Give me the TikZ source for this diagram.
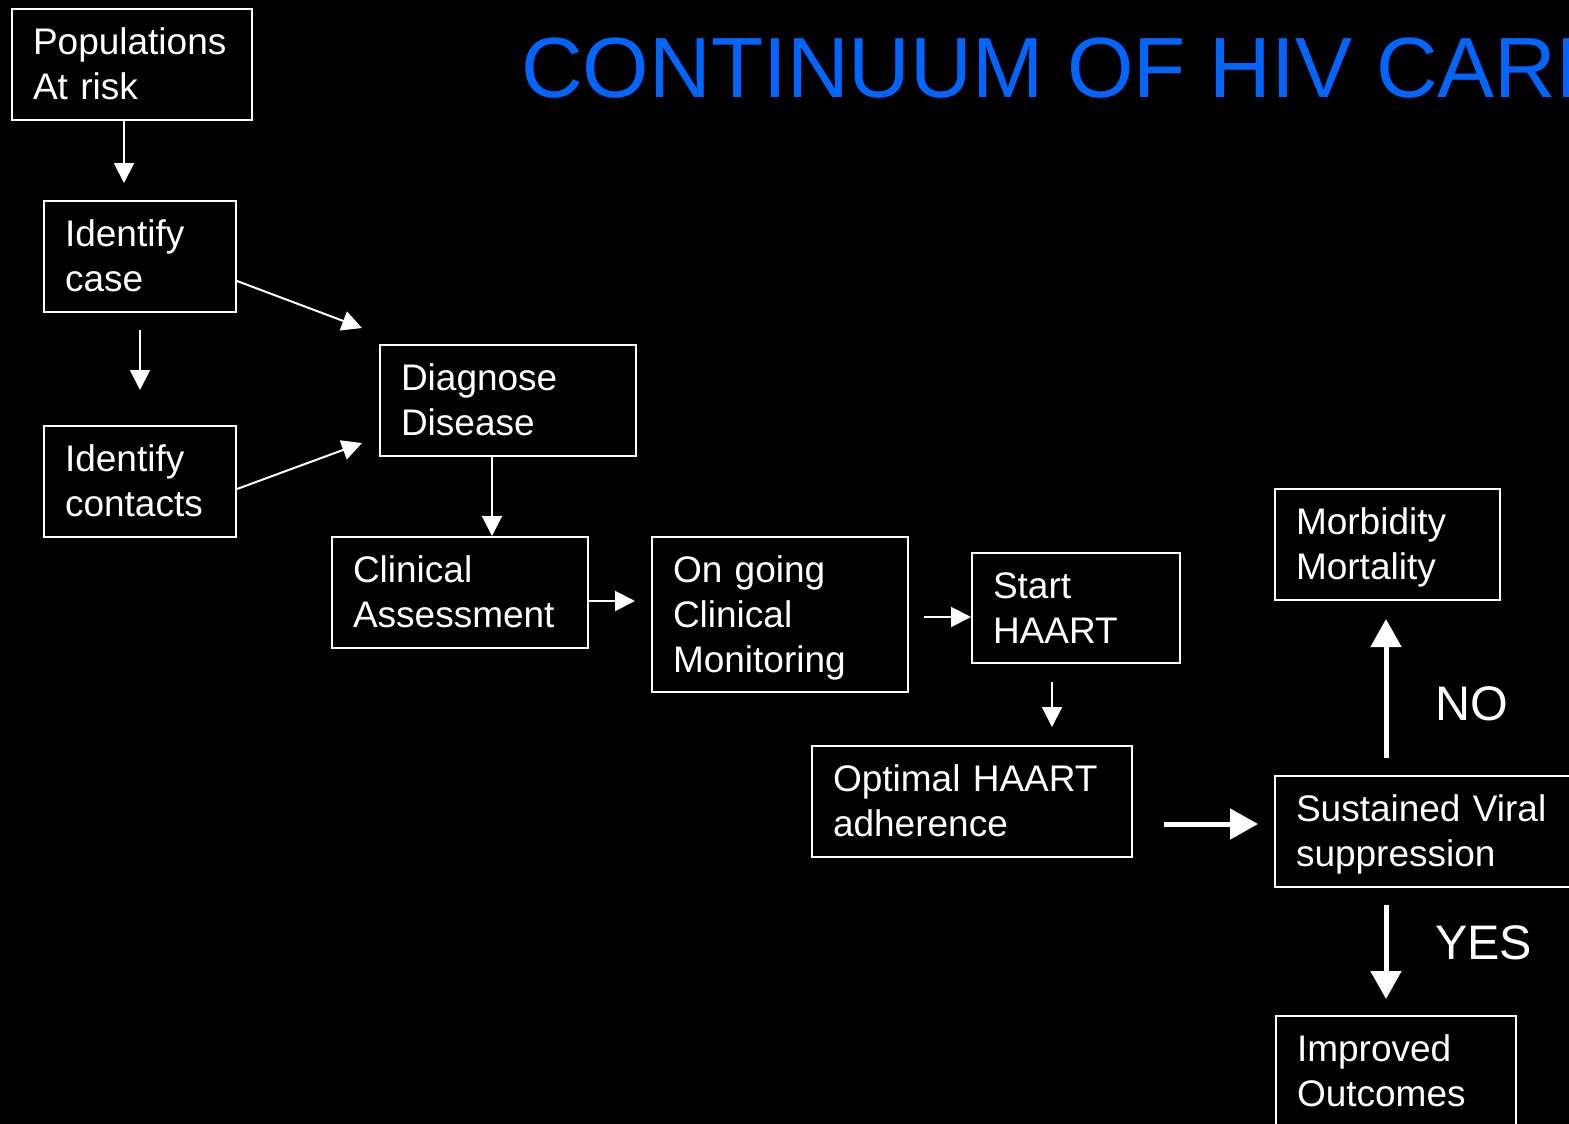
\documentclass[tikz,border=0pt]{standalone}
\usepackage{fontspec}
\setmainfont{Liberation Sans}
\usetikzlibrary{arrows.meta}
\definecolor{titleblue}{RGB}{0,102,255}
\newcommand\mystrut{\rule[-9.5pt]{0pt}{44.5pt}}
\begin{document}
\begin{tikzpicture}[x=1pt,y=-1pt,
  box/.style={draw=white, line width=2pt, text=white, align=left, inner xsep=21pt, inner ysep=0pt,
    anchor=north west, font=\fontsize{37pt}{45pt}\selectfont, minimum height=111pt},
  thinarr/.style={draw=white, line width=2pt, -{Triangle[length=20pt,width=20pt]}},
  thickarr/.style={draw=white, line width=5pt, -{Triangle[length=28pt,width=30pt]}},
  lbl/.style={text=white, font=\fontsize{48.5pt}{58pt}\selectfont, inner sep=0pt, anchor=base west},
  titlestyle/.style={text=titleblue, font=\fontsize{85.5pt}{100pt}\selectfont, inner sep=0pt, anchor=base west}]
\fill[black] (0,0) rectangle (1569,1124);
\useasboundingbox (0,0) rectangle (1569,1124);
\clip (0,0) rectangle (1569,1124);

\node[titlestyle] (title) at (521,97) {CONTINUUM OF HIV CARE};

\node[box, text width=198pt] (pop) at (11,8) {\mystrut Populations\\\mystrut At risk};
\node[box, text width=150pt] (idcase) at (43,200) {\mystrut Identify\\\mystrut case};
\node[box, text width=150pt] (idcont) at (43,425) {\mystrut Identify\\\mystrut contacts};
\node[box, text width=214pt] (diag) at (379,344) {\mystrut Diagnose\\\mystrut Disease};
\node[box, text width=214pt] (clin) at (331,536) {\mystrut Clinical\\\mystrut Assessment};
\node[box, text width=214pt, minimum height=155pt] (ongo) at (651,536) {\mystrut On going\\\mystrut Clinical\\\mystrut Monitoring};
\node[box, text width=166pt, minimum height=110pt] (start) at (971,552) {\mystrut Start\\\mystrut HAART};
\node[box, text width=278pt] (opt) at (811,745) {\mystrut Optimal HAART\\\mystrut adherence};
\node[box, text width=183pt] (morb) at (1274,488) {\mystrut Morbidity\\\mystrut Mortality};
\node[box, text width=278pt] (sust) at (1274,775) {\mystrut Sustained Viral\\\mystrut suppression};
\node[box, text width=198pt] (impr) at (1275,1015) {\mystrut Improved\\\mystrut Outcomes};

\node[lbl] (no) at (1435,720) {NO};
\node[lbl] (yes) at (1435,959) {YES};

\coordinate (s1) at ([xshift=-8pt]pop.south);
\draw[thinarr, shorten >=17pt] (s1) -- (s1 |- idcase.north);
\draw[thinarr, shorten <=17pt, shorten >=35pt] (idcase.south) -- (idcont.north);
\draw[thinarr] ([yshift=-24.5pt]idcase.east) -- ([xshift=-17pt,yshift=16pt]diag.north west);
\draw[thinarr] ([yshift=-7.5pt]idcont.east) -- ([xshift=-17pt,yshift=14pt]diag.south west);
\coordinate (s5) at ([xshift=-16pt]diag.south);
\draw[thinarr] (s5) -- (s5 |- clin.north);
\coordinate (s6) at ([yshift=-8.5pt]clin.east);
\draw[thinarr, shorten >=16pt] (s6) -- (s6 -| ongo.west);
\coordinate (s7) at ([yshift=-9pt]start.west);
\draw[thinarr, shorten <=15pt] (s7 -| ongo.east) -- (s7);
\coordinate (s8) at ([xshift=-24pt]start.south);
\draw[thinarr, shorten <=18pt, shorten >=18pt] (s8) -- (s8 |- opt.north);
\coordinate (s9) at ([yshift=7.5pt]sust.west);
\draw[thickarr, shorten <=31pt, shorten >=16pt] (s9 -| opt.east) -- (s9);
\coordinate (s10) at ([xshift=112pt]sust.north west);
\draw[thickarr, shorten <=17pt, shorten >=18pt] (s10) -- (s10 |- morb.south);
\coordinate (s11) at ([xshift=112pt]sust.south west);
\draw[thickarr, shorten <=17pt, shorten >=16pt] (s11) -- (s11 |- impr.north);
\end{tikzpicture}
\end{document}
